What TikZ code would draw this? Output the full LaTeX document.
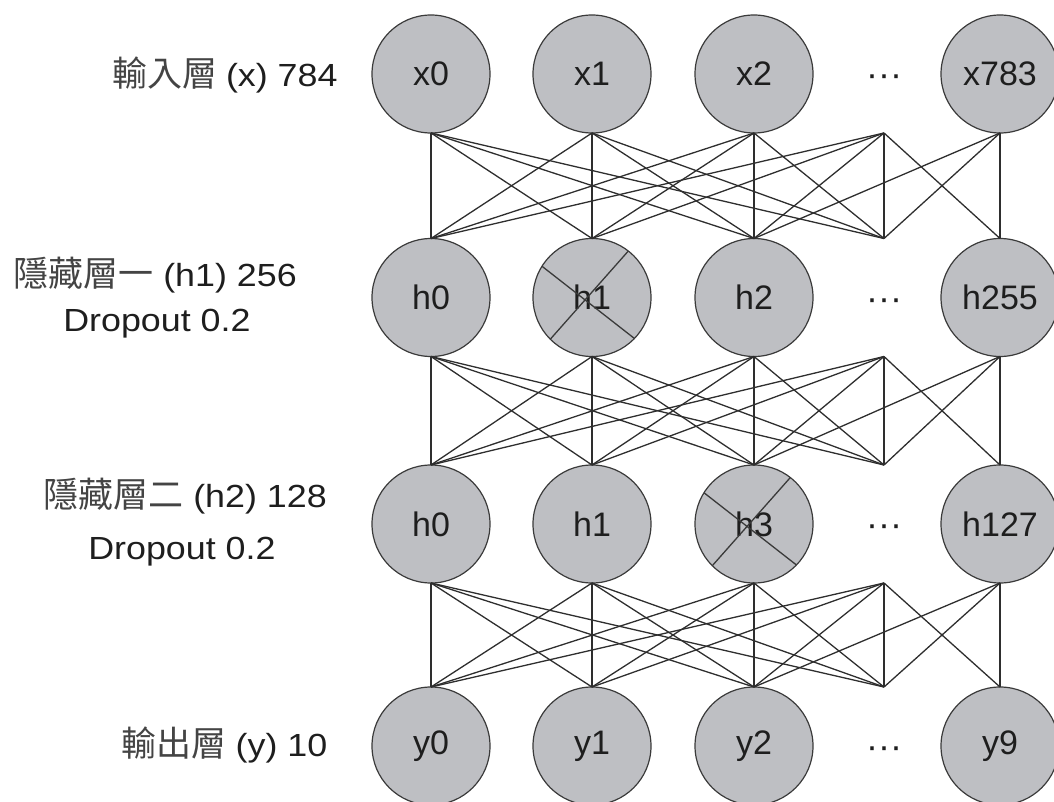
\documentclass[tikz,border=0pt]{standalone}
\usepackage{fontspec}
\usepackage{graphicx}
\setmainfont{Liberation Sans}
\newfontfamily\cjkfont{Noto Sans CJK TC}
\definecolor{nodefill}{HTML}{BEBFC3}
\definecolor{ringc}{HTML}{3A3A3A}
\definecolor{edgec}{HTML}{2E2E2E}
\definecolor{textc}{HTML}{1E1E1E}
\definecolor{cjkc}{HTML}{444444}
\newcommand\latpart[1]{\scalebox{1.12}[1]{\fontsize{32}{36}\selectfont #1}}
\newcommand\cjkpart[1]{{\color{cjkc}\cjkfont\fontsize{35}{40}\selectfont #1}}
\begin{document}
\begin{tikzpicture}[x=1pt,y=-1pt,
  neuron/.style={circle, draw=ringc, line width=1.2pt, fill=nodefill, minimum size=118pt,
    inner sep=0pt, outer sep=0pt, font=\fontsize{34}{40}\selectfont, text=textc},
  link/.style={draw=edgec, line width=1.3pt},
  crossline/.style={draw=ringc, line width=1.3pt},
  lbl/.style={anchor=base west, inner sep=0pt, outer sep=0pt, text=textc},
  dotsn/.style={inner sep=0pt, font=\fontsize{36}{40}\selectfont, text=textc}]
\useasboundingbox (0,0) rectangle (1054,802);
\clip (0,0) rectangle (1054,802);

% layer labels
\node[lbl] (L1) at (112,86.7) {\cjkpart{輸入層}\hspace{9pt}\latpart{(x) 784}};
\node[lbl] (L2a) at (13.3,286.7) {\cjkpart{隱藏層一}\hspace{10pt}\latpart{(h1) 256}};
\node[lbl] (L2b) at (63.3,331.7) {\latpart{Dropout 0.2}};
\node[lbl] (L3a) at (43.3,507.3) {\cjkpart{隱藏層二}\hspace{10pt}\latpart{(h2) 128}};
\node[lbl] (L3b) at (88.3,559.3) {\latpart{Dropout 0.2}};
\node[lbl] (L4) at (121.7,756.7) {\cjkpart{輸出層}\hspace{9pt}\latpart{(y) 10}};

% neurons
\node[neuron] (n11) at (431,74) {x0};
\node[neuron] (n12) at (592,74) {x1};
\node[neuron] (n13) at (754,74) {x2};
\node[dotsn]  (d1)  at (884,81) {···};
\node[neuron] (n15) at (1000,74) {x783};

\node[neuron] (n21) at (431,297.5) {h0};
\node[neuron] (n22) at (592,297.5) {h1};
\node[neuron] (n23) at (754,297.5) {h2};
\node[dotsn]  (d2)  at (884,304.5) {···};
\node[neuron] (n25) at (1000,297.5) {h255};

\node[neuron] (n31) at (431,524) {h0};
\node[neuron] (n32) at (592,524) {h1};
\node[neuron] (n33) at (754,524) {h3};
\node[dotsn]  (d3)  at (884,531) {···};
\node[neuron] (n35) at (1000,524) {h127};

\node[neuron] (n41) at (431,746) {y0};
\node[neuron] (n42) at (592,746) {y1};
\node[neuron] (n43) at (754,746) {y2};
\node[dotsn]  (d4)  at (884,753) {···};
\node[neuron] (n45) at (1000,746) {y9};

% dropout crosses
\draw[crossline] (n22.148) -- (n22.-44) (n22.52) -- (n22.225);
\draw[crossline] (n33.148) -- (n33.-44) (n33.52) -- (n33.225);

% connector end points
\foreach \r in {1,2,3,4} {
  \foreach \c in {1,2,3,5} {
    \coordinate (s\r\c) at (n\r\c.south);
    \coordinate (t\r\c) at (n\r\c.north);
  }
}
\foreach \r/\yy in {1/74,2/297.5,3/524,4/746} {
  \coordinate (s\r4) at (884,{\yy+59});
  \coordinate (t\r4) at (884,{\yy-59});
}

% connections between layers
\foreach \r [evaluate=\r as \rr using {int(\r+1)}] in {1,2,3} {
  \foreach \i in {1,2,3,4} {
    \foreach \j in {1,2,3,4} {
      \draw[link] (s\r\i) -- (t\rr\j);
    }
  }
  \foreach \i/\j in {4/5,5/3,5/4,5/5} {
    \draw[link] (s\r\i) -- (t\rr\j);
  }
}
\end{tikzpicture}
\end{document}
